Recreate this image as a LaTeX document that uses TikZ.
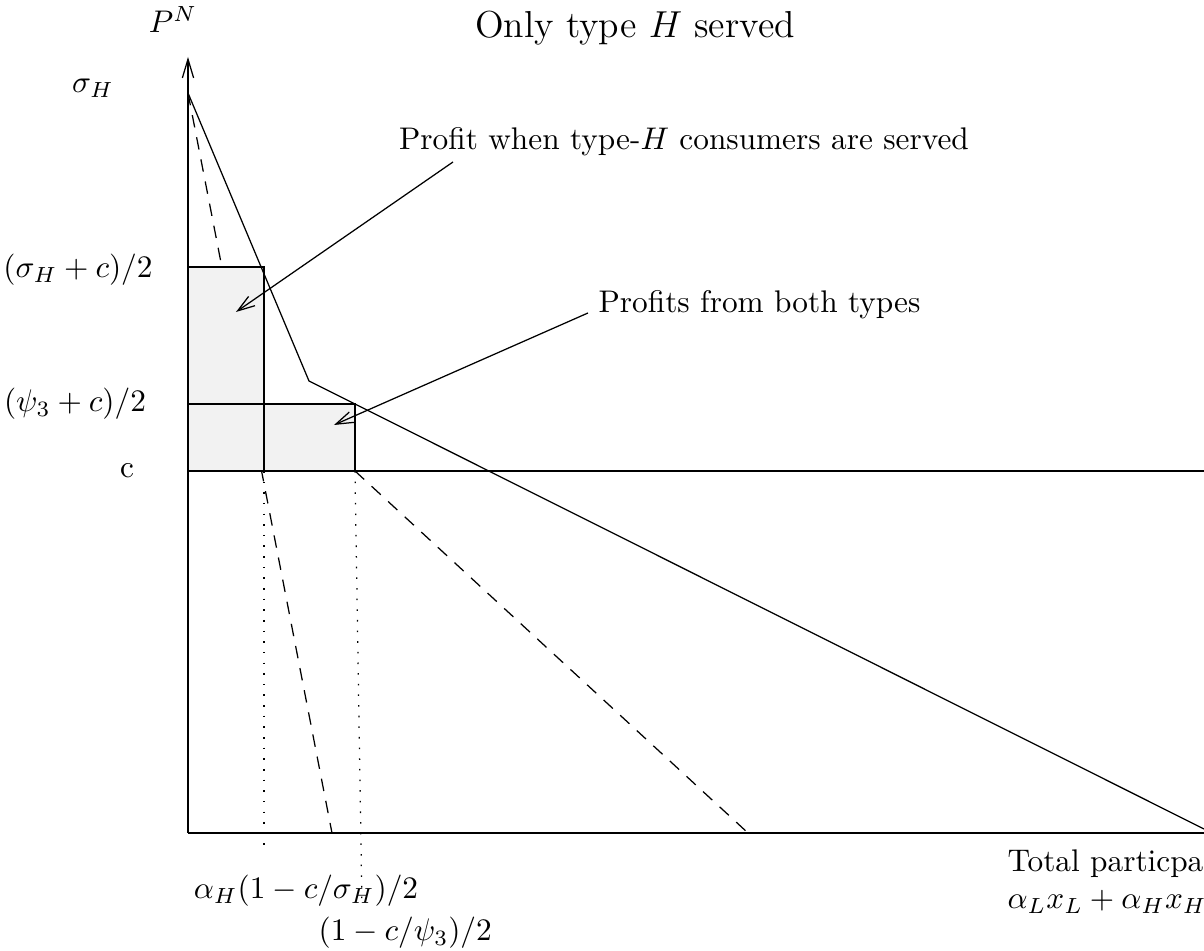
\documentclass[tikz,border=0pt]{standalone}
\usetikzlibrary{arrows.meta}
\tikzstyle{axis} = [draw,-{Straight Barb[length=6pt,width=3.6pt]}]
\tikzstyle{pointer} = [draw,-{Straight Barb[length=5.5pt,width=3.6pt]}]
\tikzstyle{profit} = [fill=black!5]
\tikzstyle{guide} = [draw,dash pattern=on 4pt off 3.2pt]
\tikzstyle{drop} = [draw,dash pattern=on 0.5pt off 2.9pt]
\tikzstyle{tag} = [inner sep=0pt]

\begin{document}
\begin{tikzpicture}[x=0.3195pt, y=0.3195pt]
	\useasboundingbox (-188,-118) rectangle (1016,833);

	% Points on the axes and on the demand curve
	\foreach \pos/\name in {{(0,0)/O}, {(0,776)/ytop}, {(1016,0)/xend},
							{(0,740)/sH}, {(121,452)/kink}, {(1016,4)/dend},
							{(0,362)/cL}, {(1016,362)/cR},
							{(76,362)/qH}, {(167,362)/qB}, {(76,566)/pH}, {(167,429)/pB},
							{(144,0)/mrH}, {(560,0)/mrB}, {(76,-17)/dH}, {(174,-74)/dB}}
		\path \pos coordinate (\name);

	% Marginal revenue lines, partly hidden by the profit areas
	\path[guide] (sH) -- (mrH);
	\path[guide] (qB) -- (mrB);

	% Profit areas
	\fill[profit] (cL) rectangle (pH);
	\fill[profit] (cL) rectangle (pB);
	\draw (cL) rectangle (pH);
	\draw (cL) rectangle (pB);

	% Axes, cost line and demand
	\path[axis] (O) -- (ytop);
	\draw (O) -- (xend);
	\draw (cL) -- (cR);
	\draw (sH) -- (kink) -- (dend);

	% Quantities dropped to the horizontal axis
	\path[drop] (qH) -- (dH);
	\path[drop] (qB) -- (dB);

	% Labels on the price axis
	\foreach \pos/\name/\txt in {{(-15,800)}/pn/{$P^N$}, {(-95,740)}/lsH/{$\sigma_H$},
								 {(-110,555)}/lpH/{$(\sigma_H+c)/2$}, {(-113,421)}/lpB/{$(\psi_3+c)/2$},
								 {(-61,355)}/lc/{c}}
		\node[tag,anchor=base] (\name) at \pos {\txt};

	% Labels under the quantity axis
	\node[tag,anchor=base] (lqH) at (118,-66) {$\alpha_H(1-c/\sigma_H)/2$};
	\node[tag,anchor=base west] (lqB) at (130,-108) {$(1-c/\psi_3)/2$};
	\node[tag,anchor=north west,align=left] (xlabel) at (819,-16) {Total particpa\\$\alpha_Lx_L+\alpha_Hx_H$};

	\node[tag,anchor=base,font=\large] (title) at (447,795) {Only type $H$ served};

	% Captions pointing at the profit areas
	\node[tag,anchor=base] (capH) at (496,683) {Profit when type-$H$ consumers are served};
	\node[tag,anchor=base west] (capB) at (410,520) {Profits from both types};
	\coordinate (tailH) at (265,671);
	\coordinate (headH) at (48,521);
	\coordinate (tailB) at (400,520);
	\coordinate (headB) at (146,408);
	\path[pointer] (tailH) -- (headH);
	\path[pointer] (tailB) -- (headB);
\end{tikzpicture}
\end{document}
